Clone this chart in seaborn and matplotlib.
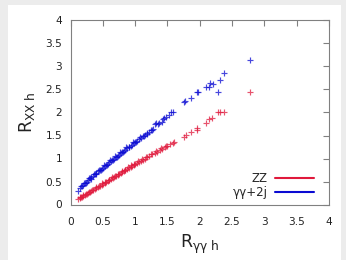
import matplotlib
matplotlib.use("Agg")
import matplotlib.pyplot as plt
import seaborn as sns
import pandas as pd
from matplotlib.lines import Line2D
from matplotlib.patches import Rectangle

# ---- data ----
zz_x = [0.12, 0.14, 0.16, 0.18, 0.20, 0.22, 0.25, 0.27, 0.30, 0.32, 0.35, 0.38, 0.40,
        0.43, 0.45, 0.48, 0.50, 0.53, 0.55, 0.58, 0.60, 0.63, 0.65, 0.68, 0.70, 0.73,
        0.75, 0.78, 0.80, 0.83, 0.85, 0.88, 0.90, 0.93, 0.95, 0.98, 1.00, 1.03, 1.06,
        1.09, 1.12, 1.15, 1.19, 1.22, 1.26, 1.30, 1.34, 1.38, 1.42, 1.46, 1.50, 1.54,
        1.58, 1.60,
        1.75, 1.78, 1.86, 1.96, 1.96, 2.09, 2.15, 2.19, 2.28, 2.31, 2.38, 2.77]
zz_y = [0.12, 0.137, 0.155, 0.172, 0.19, 0.207, 0.233, 0.25, 0.276, 0.293, 0.32, 0.345, 0.363,
        0.389, 0.406, 0.432, 0.45, 0.475, 0.493, 0.518, 0.536, 0.561, 0.578, 0.604, 0.621, 0.646,
        0.663, 0.689, 0.706, 0.731, 0.748, 0.773, 0.79, 0.815, 0.832, 0.857, 0.874, 0.899, 0.924,
        0.949, 0.974, 0.998, 1.031, 1.056, 1.088, 1.12, 1.152, 1.184, 1.216, 1.248, 1.28, 1.312,
        1.344, 1.36,
        1.46, 1.52, 1.58, 1.67, 1.63, 1.78, 1.86, 1.89, 2.02, 2.00, 2.02, 2.44]
# second row of the dense ZZ band
zz_x2 = [0.15, 0.19, 0.235, 0.285, 0.335, 0.39, 0.44, 0.49, 0.54, 0.59, 0.64, 0.69, 0.74,
         0.79, 0.84, 0.89, 0.94, 0.99, 1.045, 1.10, 1.17, 1.24, 1.32, 1.40, 1.48]
zz_y2 = [0.16, 0.20, 0.235, 0.28, 0.32, 0.37, 0.41, 0.46, 0.50, 0.54, 0.59, 0.63, 0.67,
         0.72, 0.76, 0.81, 0.85, 0.89, 0.94, 0.99, 1.04, 1.10, 1.16, 1.23, 1.28]

yy_x = [0.12, 0.15, 0.18, 0.20, 0.22, 0.25, 0.27, 0.30, 0.32, 0.35, 0.38, 0.40, 0.43,
        0.45, 0.48, 0.50, 0.53, 0.55, 0.58, 0.60, 0.63, 0.65, 0.68, 0.70, 0.73, 0.75,
        0.78, 0.80, 0.83, 0.85, 0.88, 0.90, 0.93, 0.95, 0.98, 1.00, 1.03, 1.06, 1.09,
        1.12, 1.15, 1.18, 1.21, 1.24, 1.27, 1.30, 1.33, 1.37, 1.41, 1.45, 1.48, 1.52,
        1.55, 1.58,
        1.76, 1.77, 1.87, 1.96, 1.97, 2.09, 2.15, 2.16, 2.20, 2.28, 2.31, 2.38, 2.77]
yy_y = [0.30, 0.36, 0.40, 0.43, 0.46, 0.50, 0.53, 0.57, 0.60, 0.63, 0.67, 0.69, 0.72,
        0.75, 0.78, 0.80, 0.84, 0.86, 0.89, 0.92, 0.95, 0.97, 1.00, 1.03, 1.06, 1.08,
        1.11, 1.14, 1.17, 1.19, 1.22, 1.25, 1.28, 1.30, 1.33, 1.36, 1.39, 1.42, 1.45,
        1.48, 1.51, 1.54, 1.57, 1.61, 1.65, 1.76, 1.77, 1.78, 1.80, 1.87, 1.90, 1.95,
        2.02, 2.00,
        2.23, 2.25, 2.31, 2.44, 2.45, 2.55, 2.55, 2.64, 2.63, 2.44, 2.71, 2.85, 3.14]
# second row of the dense γγ+2j band
yy_x2 = [0.16, 0.21, 0.235, 0.285, 0.31, 0.36, 0.39, 0.44, 0.47, 0.52, 0.565, 0.61, 0.645,
         0.69, 0.72, 0.77, 0.81, 0.86, 0.91, 0.96, 1.01, 1.07, 1.13, 1.19, 1.26, 1.35, 1.43]
yy_y2 = [0.40, 0.47, 0.46, 0.57, 0.56, 0.67, 0.66, 0.76, 0.75, 0.86, 0.85, 0.96, 0.96,
         1.05, 1.03, 1.14, 1.15, 1.24, 1.25, 1.35, 1.35, 1.46, 1.48, 1.56, 1.62, 1.74, 1.86]

labels = ["ZZ", "γγ+2j"]
colors = ["#e0193c", "#0a0ad2"]
ticks = [0, 0.5, 1, 1.5, 2, 2.5, 3, 3.5, 4]
tick_labels = ["0", "0.5", "1", "1.5", "2", "2.5", "3", "3.5", "4"]

df = pd.concat([
    pd.DataFrame({"x": zz_x + zz_x2, "y": zz_y + zz_y2, "s": labels[0]}),
    pd.DataFrame({"x": yy_x + yy_x2, "y": yy_y + yy_y2, "s": labels[1]}),
])

sns.set_style("white")
fig = plt.figure(figsize=(3.46, 2.60), dpi=100)
fig.patch.set_facecolor("#ececec")
fig.patches.append(Rectangle((8 / 346, 0), 333 / 346, 255 / 260, transform=fig.transFigure,
                             facecolor="white", edgecolor="none", zorder=-10))
ax = fig.add_axes([70.5 / 346, 1 - 204.5 / 260, 258.5 / 346, 184 / 260])
ax.set_zorder(1)
ax.patch.set_alpha(0)

for lab, col in zip(labels, colors):
    sub = df[df["s"] == lab]
    sns.scatterplot(data=sub, x="x", y="y", marker="+", color=col, s=14,
                    linewidth=0.85, alpha=0.75, ax=ax, legend=False)

ax.set_xlim(0, 4)
ax.set_ylim(0, 4)
ax.set_xticks(ticks)
ax.set_xticklabels(tick_labels)
ax.set_yticks(ticks)
ax.set_yticklabels(tick_labels)
ax.tick_params(direction="in", length=4, width=0.8, color="#808080", labelsize=7.6,
               labelcolor="#222222", top=True, right=True)
ax.tick_params(axis="x", pad=9)
ax.tick_params(axis="y", pad=6)
for sp in ax.spines.values():
    sp.set_color("#808080")
    sp.set_linewidth(0.8)

ax.set_xlabel(r"R$_{\mathregular{γγ\ h}}$", fontsize=12.5, color="#222222", labelpad=4)
ax.set_ylabel(r"R$_{\mathregular{XX\ h}}$", fontsize=12.5, color="#222222", labelpad=6)

handles = [Line2D([0], [0], color=c, lw=1.5) for c in colors]
ax.legend(handles, labels, loc="lower right", frameon=False, markerfirst=False,
          handlelength=3.3, fontsize=8.5, labelspacing=0.08, handletextpad=0.6,
          bbox_to_anchor=(0.983, -0.03))

fig.savefig("out.png", dpi=100, facecolor=fig.get_facecolor())
